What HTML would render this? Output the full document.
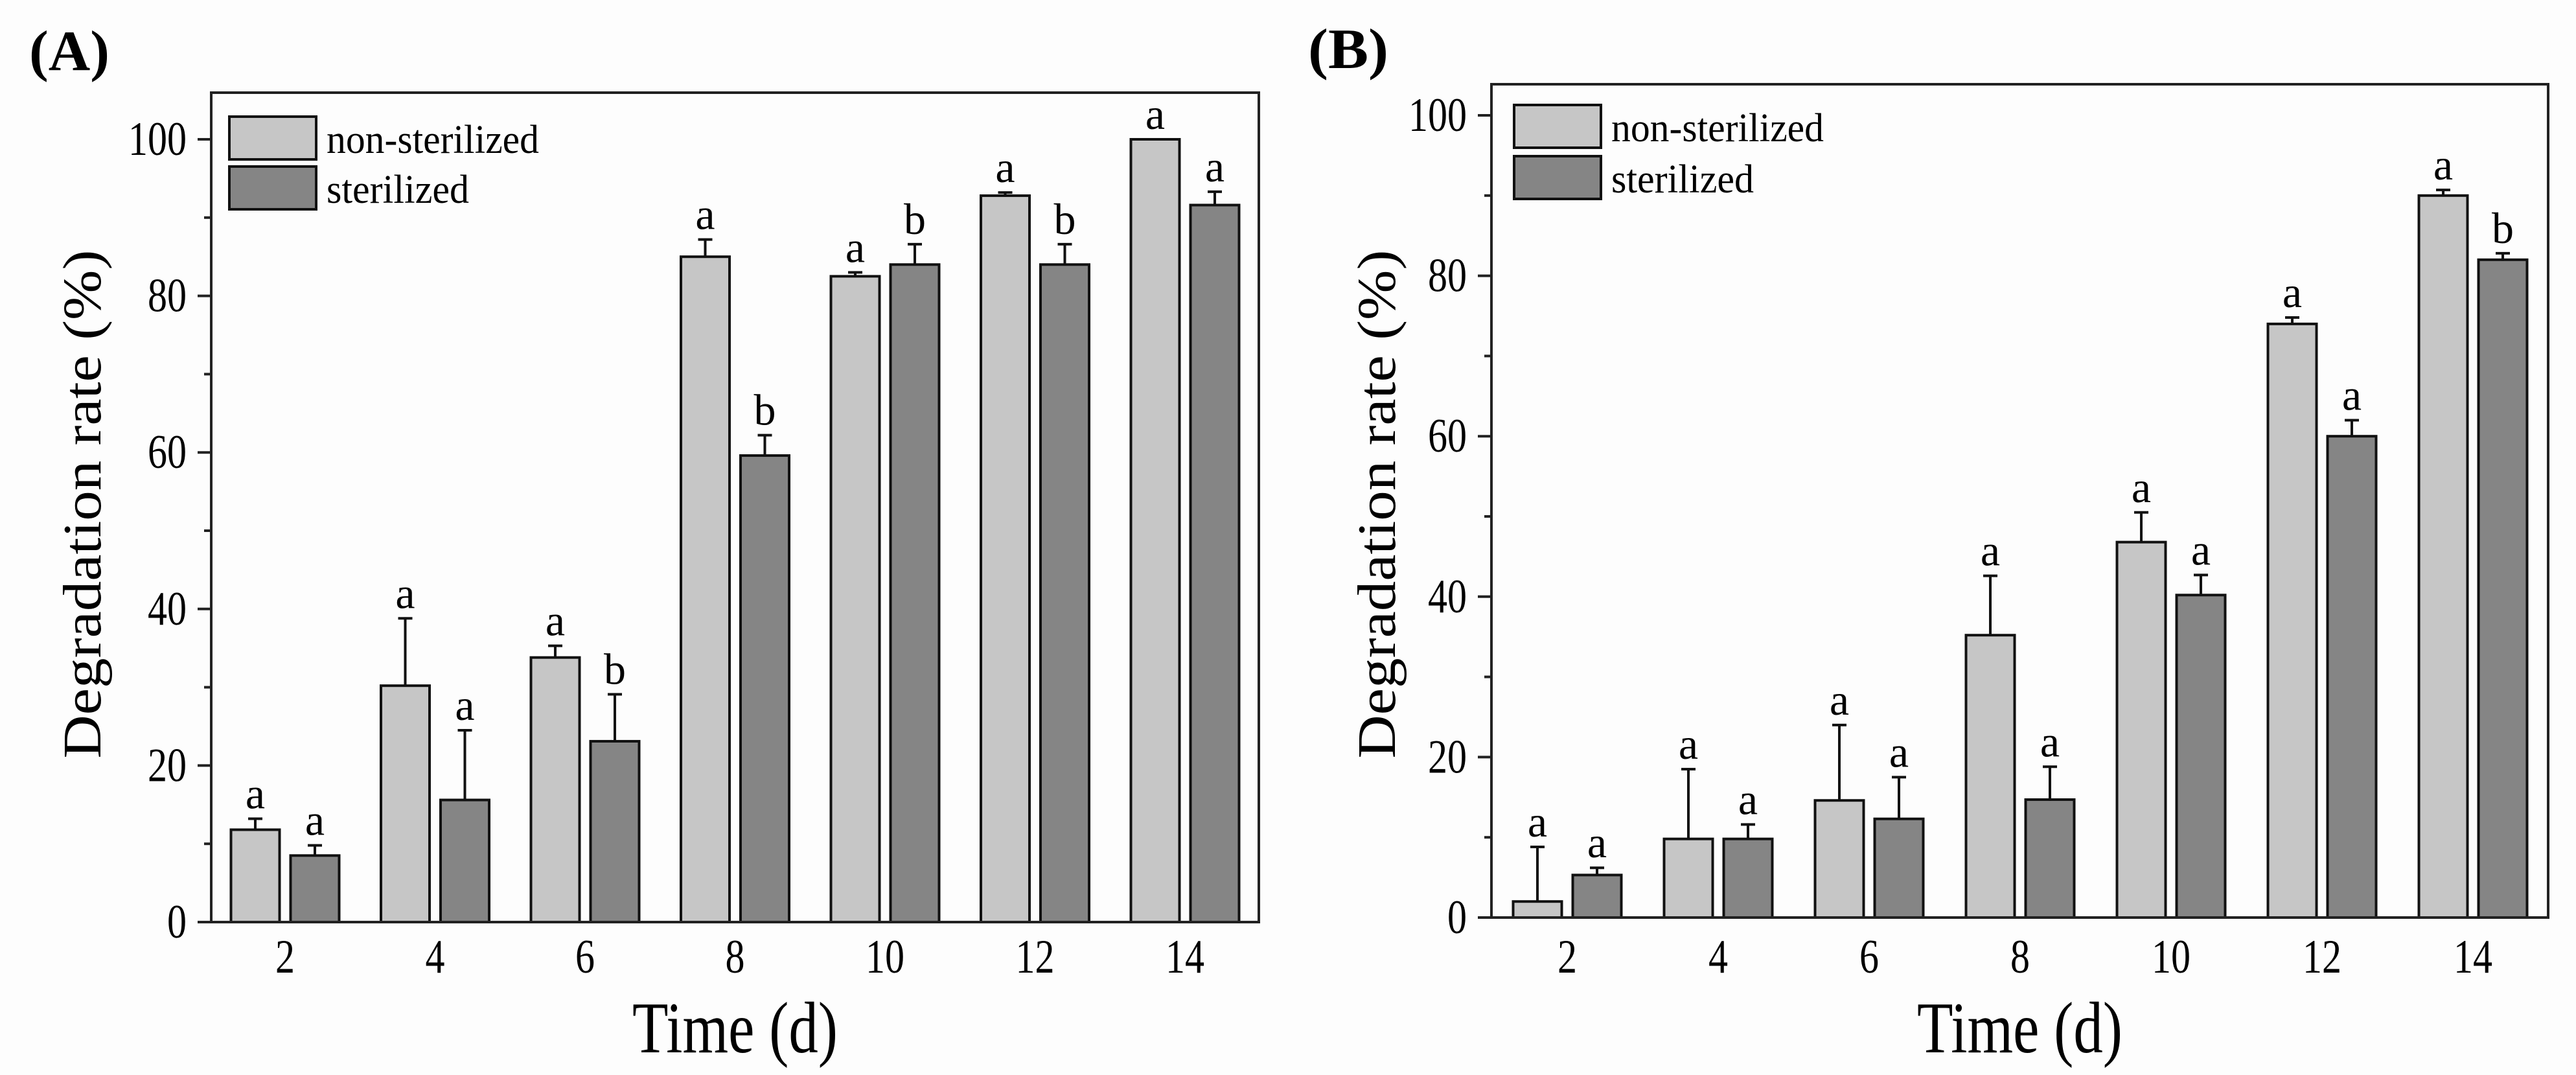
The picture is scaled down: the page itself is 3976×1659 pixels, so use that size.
<!DOCTYPE html>
<html><head><meta charset="utf-8">
<style>
html,body{margin:0;padding:0;background:#fdfdfd;}
svg{display:block;font-family:"Liberation Serif",serif;}
</style></head>
<body>
<svg id="fig" width="3976" height="1659" viewBox="0 0 3976 1659" xmlns="http://www.w3.org/2000/svg">
<rect x="0" y="0" width="3976" height="1659" fill="#fdfdfd"/>
<g id="panelA"></g>
<g id="panelB"></g>
</svg>
<script>
const categories = [2, 4, 6, 8, 10, 12, 14];
const yTicks = [0, 20, 40, 60, 80, 100];
const seriesNames = ["non-sterilized", "sterilized"];
const aNonSter = [11.8, 30.2, 33.8, 85.0, 82.5, 92.8, 100.0];
const aNonSterErr = [1.4, 8.6, 1.5, 2.2, 0.5, 0.4, 0.0];
const aSter = [8.5, 15.6, 23.1, 59.6, 84.0, 84.0, 91.6];
const aSterErr = [1.3, 8.9, 6.0, 2.6, 2.6, 2.6, 1.7];
const aNonSterLetters = ["a","a","a","a","a","a","a"];
const aSterLetters = ["a","a","b","b","b","b","a"];
const bNonSter = [2.0, 9.8, 14.6, 35.2, 46.8, 74.0, 90.0];
const bNonSterErr = [6.8, 8.7, 9.4, 7.4, 3.7, 0.8, 0.7];
const bSter = [5.3, 9.8, 12.3, 14.7, 40.2, 60.0, 82.0];
const bSterErr = [0.9, 1.8, 5.2, 4.1, 2.5, 2.0, 0.8];
const bNonSterLetters = ["a","a","a","a","a","a","a"];
const bSterLetters = ["a","a","a","a","a","a","b"];

const NS = "http://www.w3.org/2000/svg";
function mk(parent, tag, attrs, text) {
  const e = document.createElementNS(NS, tag);
  for (const k in attrs) e.setAttribute(k, attrs[k]);
  if (text !== undefined) e.textContent = text;
  parent.appendChild(e);
  return e;
}

function drawPanel(g, cfg, light, lightErr, lightLet, dark, darkErr, darkLet) {
  const yScale = v => cfg.y0 - (v / 100) * (cfg.y0 - cfg.y100);
  const xScale = d => cfg.x2 + (d - 2) / 2 * cfg.step;
  // panel label
  let t = mk(g, "text", {x: cfg.lblX, y: cfg.lblY, "font-size": 88, "font-weight": "bold", textLength: 124, lengthAdjust: "spacingAndGlyphs"}, cfg.label);
  
  
  // bars
  const bw = 75, off = 46;
  categories.forEach((d, i) => {
    const cx = xScale(d);
    [[light, lightErr, lightLet, -off, "#c6c6c6", "bar-non-sterilized-day-" + d],
     [dark, darkErr, darkLet, off, "#858585", "bar-sterilized-day-" + d]].forEach(s => {
      const v = s[0][i], e = s[1][i], bx = cx + s[3];
      const yt = yScale(v);
      const r = mk(g, "rect", {x: bx - bw / 2, y: yt, width: bw, height: cfg.y0 - yt, fill: s[4], stroke: "#111", "stroke-width": 4});
      
      
      const ye = yScale(v + e);
      if (e > 0.05) {
        const l = mk(g, "path", {d: `M${bx} ${yt} V${ye} M${bx - 11} ${ye} H${bx + 11}`, stroke: "#111", "stroke-width": 4, fill: "none"});
        
        
      }
      const lt = mk(g, "text", {x: bx, y: ye - 16, "font-size": 68, "text-anchor": "middle"}, s[2][i]);
      
      
    });
    const xl = mk(g, "text", {x: cx, y: 1501, "font-size": 74, "text-anchor": "middle", textLength: String(d).length * 30, lengthAdjust: "spacingAndGlyphs"}, String(d));
    
    
  });
  // frame
  const fr = mk(g, "rect", {x: cfg.left, y: cfg.top, width: cfg.right - cfg.left, height: cfg.y0 - cfg.top, fill: "none", stroke: "#222", "stroke-width": 4});
  
  
  // y ticks
  for (let v = 0; v <= 100; v += 10) {
    const y = yScale(v);
    const major = v % 20 === 0;
    const tk = mk(g, "line", {x1: cfg.left - (major ? 21 : 11), x2: cfg.left, y1: y, y2: y, stroke: "#222", "stroke-width": 4});
    
    
  }
  yTicks.forEach(v => {
    const s = String(v);
    const yl = mk(g, "text", {x: cfg.left - 38, y: yScale(v) + 24, "font-size": 74, "text-anchor": "end", textLength: s.length * 30, lengthAdjust: "spacingAndGlyphs"}, s);
    
    
  });
  // titles
  const xt = mk(g, "text", {x: (cfg.left + cfg.right) / 2, y: 1624, "font-size": 112, "text-anchor": "middle", textLength: 317, lengthAdjust: "spacingAndGlyphs"}, "Time (d)");
  
  
  const yt2 = mk(g, "text", {x: 0, y: 0, "font-size": 84, "text-anchor": "middle", textLength: 785, lengthAdjust: "spacingAndGlyphs", transform: `translate(${cfg.ytX} 778) rotate(-90)`}, "Degradation rate (%)");
  
  
  // legend
  const lg = mk(g, "g", {});
  
  
  [[cfg.lgY1, "#c6c6c6", seriesNames[0], 328], [cfg.lgY2, "#858585", seriesNames[1], 220]].forEach(s => {
    const sw = mk(lg, "rect", {x: cfg.lgX, y: s[0], width: 134, height: cfg.lgH, fill: s[1], stroke: "#111", "stroke-width": 4});
    
    
    const tx = mk(lg, "text", {x: cfg.lgX + 150, y: s[0] + cfg.lgH - 10, "font-size": 62, textLength: s[3], lengthAdjust: "spacingAndGlyphs"}, s[2]);
    
    
  });
}

drawPanel(document.getElementById("panelA"),
  {label: "(A)", lblX: 45, lblY: 108, left: 326, right: 1943, top: 143, y0: 1423, y100: 215, x2: 440, step: 231.5, ytX: 155, lgX: 354, lgY1: 180, lgY2: 257, lgH: 66},
  aNonSter, aNonSterErr, aNonSterLetters, aSter, aSterErr, aSterLetters);
drawPanel(document.getElementById("panelB"),
  {label: "(B)", lblX: 2019, lblY: 105, left: 2302, right: 3933, top: 130, y0: 1416, y100: 178, x2: 2419, step: 233, ytX: 2153, lgX: 2337, lgY1: 162, lgY2: 241, lgH: 66},
  bNonSter, bNonSterErr, bNonSterLetters, bSter, bSterErr, bSterLetters);
</script>
</body></html>
